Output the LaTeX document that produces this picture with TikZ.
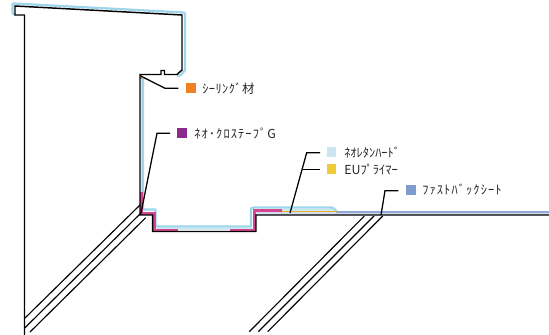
\documentclass[tikz,border=0pt]{standalone}
\usepackage{fontspec}
\newfontfamily\jpfont{Noto Sans CJK JP}
\newfontfamily\jpwide[LetterSpace=9]{Noto Sans CJK JP}
\newfontfamily\jpmid[LetterSpace=3.5]{Noto Sans CJK JP}
\definecolor{skyline}{HTML}{9DD6EA}
\definecolor{neofill}{HTML}{CBE6EE}
\definecolor{pinkline}{HTML}{D6458F}
\definecolor{yelline}{HTML}{EBB52A}
\definecolor{sheetblue}{HTML}{8FA8D8}
\definecolor{sheetfill}{HTML}{D5DEF0}
\definecolor{sqorange}{HTML}{F08020}
\definecolor{sqpurple}{HTML}{8B2A8B}
\definecolor{sqcyan}{HTML}{CBE6EE}
\definecolor{sqyellow}{HTML}{EFCB38}
\definecolor{sqblue}{HTML}{7F9BD0}
\tikzset{
  struct/.style={draw=black,line width=1.1pt,line join=miter},
  thin struct/.style={draw=black,line width=0.85pt},
  leader/.style={draw=black,line width=0.95pt,line join=miter},
  coat/.style={draw=skyline,line width=1.7pt,line join=round},
  pinkcoat/.style={draw=pinkline,line width=1.7pt},
  swatch/.style={minimum size=7.2pt,inner sep=0pt,outer sep=0pt,anchor=north west},
  lab/.style={anchor=west,inner sep=0pt,font=\fontsize{9.3pt}{11pt}\selectfont,text=black!85}
}
\begin{document}
\begin{tikzpicture}[x=0.75pt,y=-0.75pt]
\useasboundingbox (0,0) rectangle (549,335);
% coatings: top-coat outline
\draw[coat] (15,15) -- (12.5,13) -- (12.5,4.5) -- (13.5,3.5) -- (184,12.5) -- (185,14) -- (185,70) -- (181,75) -- (177,76);
\fill[neofill] (141,78) rectangle (143.5,208);
\draw[coat] (143,78) -- (143,209.5) -- (155.5,209.5) -- (155.5,226.5) -- (251,226.5) -- (251,208.5) -- (254,207.5) -- (331,207.5) -- (334,208.5) -- (337,212);
\fill[neofill] (157,228) rectangle (253,230);
\fill[neofill] (253,209) rectangle (334,211);
% fast back sheet
\fill[sheetfill] (256,212) rectangle (549,214.5);
\draw[draw=sheetblue,line width=1.2pt] (336,212) -- (549,212);
% primer
\draw[draw=yelline,line width=1.2pt] (257,211.5) -- (337,211.5);
% tape
\draw[pinkcoat] (141.5,192) -- (141.5,213.5) -- (154.5,213.5) -- (154.5,229.7) -- (178,229.7);
\draw[pinkcoat] (230,229.7) -- (254.5,229.7) -- (254.5,210.5) -- (281.7,210.5);
% sealant
\fill[sqorange] (139.5,75) rectangle (142,79);
% structure
\draw[struct] (24.5,335) -- (24.5,15) -- (15,15) -- (15,6) -- (182,15) -- (182,70) -- (177,74.5) -- (164.5,74.5) -- (164.5,70.5) -- (161,70.5) -- (161,74.5) -- (140,74.5) -- (140,215) -- (152.7,215) -- (152.7,231.5) -- (256,231.5) -- (256,215) -- (549,215);
% diagonals
\draw[thin struct] (140,205) -- (25,318);
\draw[thin struct] (141.7,212.3) -- (25,327.7);
\draw[thin struct] (145.7,217.7) -- (30,332);
\draw[thin struct] (364.3,216) -- (249.3,331.7);
\draw[thin struct] (374,216) -- (258.3,331.7);
\draw[thin struct] (382.7,216) -- (267.7,331.7);
% legend
\node[swatch,fill=sqorange] (sqSeal) at (186,83.3) {};
\node[lab] (tSeal) at (202,88.3) {\jpmid ｼｰﾘﾝｸﾞ材};
\node[swatch,fill=sqpurple] (sqTape) at (177.3,128.3) {};
\node[lab] (tTape) at (194,133) {\jpwide ﾈｵ･ｸﾛｽﾃｰﾌﾟG};
\node[swatch,fill=sqcyan] (sqNeo) at (326.7,147.3) {};
\node[lab] (tNeo) at (344,152.3) {\jpfont ﾈｵﾚﾀﾝﾊｰﾄﾞ};
\node[swatch,fill=sqyellow] (sqEU) at (326.7,164.3) {};
\node[lab] (tEU) at (344,169.3) {\jpfont EUﾌﾟﾗｲﾏｰ};
\node[swatch,fill=sqblue] (sqFB) at (406,185) {};
\node[lab] (tFB) at (422,190) {\jpwide ﾌｧｽﾄﾊﾞｯｸｼｰﾄ};
% leaders
\coordinate (aSeal) at (140.7,76);
\coordinate (eSeal) at (178.3,88.3);
\coordinate (aTape) at (141,213);
\coordinate (eTape) at (170,133.3);
\coordinate (aNeo) at (290,213);
\coordinate (eNeo) at (320,152.7);
\coordinate (bEU) at (303.3,169.3);
\coordinate (eEU) at (320,169.3);
\coordinate (aFB) at (381,215);
\coordinate (eFB) at (398.3,190.7);
\draw[leader] (aSeal) -- (165,88.3) -- (eSeal);
\draw[leader] (aTape) -- (157,133.3) -- (eTape);
\draw[leader] (aNeo) -- (306.7,152.7) -- (eNeo);
\draw[leader] (bEU) -- (eEU);
\draw[leader] (aFB) -- (385,190.7) -- (eFB);
\end{tikzpicture}
\end{document}
